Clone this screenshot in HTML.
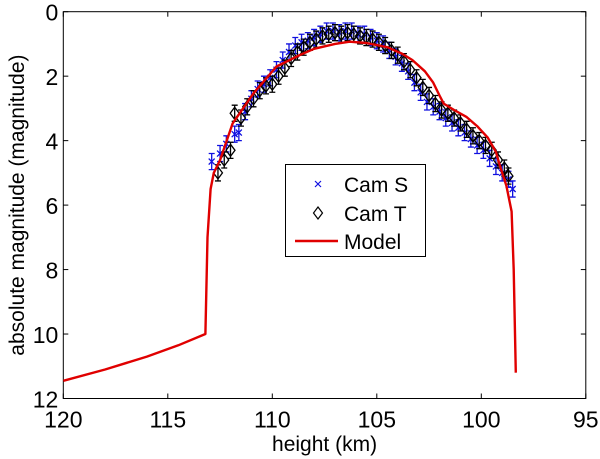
<!DOCTYPE html>
<html><head><meta charset="utf-8"><style>
body{margin:0;background:#fff}
svg{display:block;font-family:"Liberation Sans",sans-serif}
</style></head><body>
<svg id="chart" width="600" height="459" viewBox="0 0 600 459" xmlns="http://www.w3.org/2000/svg"></svg>
<script>
const xTicks=[120,115,110,105,100,95];
const yTicks=[0,2,4,6,8,10,12];
const modelH=[120,118,116,114.5,113.2,113.1,112.95,112.8,112.5,111.9,110.9,109.8,108.7,108,107,106.3,105.5,104.5,103.8,103.3,102.7,102.3,102.0,101.8,101.3,100.7,100.2,99.7,99.3,99.1,98.8,98.55,98.45,98.35];
const modelM=[11.45,11.1,10.7,10.35,10.0,7.0,5.5,5.0,4.6,3.47,2.53,1.7,1.35,1.15,1.0,0.93,0.97,1.1,1.3,1.5,1.85,2.2,2.6,2.85,3.05,3.27,3.55,3.9,4.35,4.8,5.4,6.2,8.0,11.2];
const camTH=[112.6,112.3,112.0,111.8,111.5,111.2,110.9,110.6,110.3,110.0,109.7,109.4,109.1,108.8,108.5,108.2,107.9,107.6,107.3,107.0,106.7,106.4,106.1,105.8,105.5,105.2,104.9,104.6,104.3,104.0,103.7,103.4,103.1,102.8,102.5,102.2,101.9,101.6,101.3,101.0,100.7,100.4,100.1,99.8,99.5,99.2,98.9,98.7];
const camTM=[5.0,4.6,4.3,3.15,3.3,2.95,2.7,2.45,2.3,2.25,2.0,1.75,1.45,1.25,1.1,0.95,0.85,0.75,0.7,0.65,0.7,0.65,0.7,0.75,0.8,0.85,0.95,1.05,1.2,1.35,1.55,1.8,2.05,2.35,2.6,2.85,3.05,3.15,3.3,3.45,3.65,3.85,4.0,4.15,4.3,4.6,4.85,5.1];
const camSH=[112.9,112.5,112.2,111.8,111.6,111.3,111.0,110.7,110.4,110.1,109.8,109.5,109.2,108.9,108.6,108.3,108.0,107.7,107.4,107.1,106.8,106.5,106.2,105.9,105.6,105.3,105.0,104.7,104.4,104.1,103.8,103.5,103.2,102.9,102.6,102.3,102.0,101.7,101.4,101.1,100.8,100.5,100.2,99.9,99.6,99.3,99.0,98.7,98.5];
const camSM=[4.65,4.4,4.1,3.8,3.75,3.1,2.7,2.4,2.25,2.05,1.8,1.5,1.25,1.05,0.95,0.9,0.8,0.7,0.6,0.6,0.65,0.6,0.6,0.7,0.7,0.8,0.9,1.0,1.2,1.4,1.6,1.85,2.2,2.5,2.8,2.95,3.1,3.3,3.45,3.6,3.75,3.95,4.15,4.3,4.55,4.8,5.0,5.2,5.5];
const errBar=0.25;

const L=63.3,R=585.8,T=11.7,B=398.5;
const X=h=>L+(120-h)/(120-95)*(R-L);
const Y=m=>T+m/12*(B-T);
const NS='http://www.w3.org/2000/svg';
const svg=document.getElementById('chart');
function mk(tag,attrs,parent){const e=document.createElementNS(NS,tag);for(const k in attrs)e.setAttribute(k,attrs[k]);(parent||svg).appendChild(e);return e;}

const axes=mk('g',{});


mk('rect',{x:L,y:T,width:R-L,height:B-T,fill:'#fff',stroke:'#000','stroke-width':1},axes);
xTicks.forEach(v=>{
  const x=X(v);
  mk('line',{x1:x,y1:B,x2:x,y2:B-5,stroke:'#000'},axes);
  mk('line',{x1:x,y1:T,x2:x,y2:T+5,stroke:'#000'},axes);
  const t=mk('text',{x:x,y:B+29,'font-size':23,'text-anchor':'middle'},axes);
  t.textContent=v;
  
  
});
yTicks.forEach(v=>{
  const y=Y(v);
  mk('line',{x1:L,y1:y,x2:L+5,y2:y,stroke:'#000'},axes);
  mk('line',{x1:R,y1:y,x2:R-5,y2:y,stroke:'#000'},axes);
  const t=mk('text',{x:L-5,y:y+9,'font-size':23,'text-anchor':'end'},axes);
  t.textContent=v;
  
  
});
const xt=mk('text',{x:(L+R)/2,y:451,'font-size':21,'text-anchor':'middle'});
xt.textContent='height (km)';


const yt=mk('text',{x:0,y:0,'font-size':21,'text-anchor':'middle',transform:'translate(24,'+((T+B)/2)+') rotate(-90)'});
yt.textContent='absolute magnitude (magnitude)';



// Cam S
const gs=mk('g',{stroke:'#1010e0','stroke-width':1.3,fill:'none'});


camSH.forEach((h,i)=>{
  const x=X(h),y=Y(camSM[i]),y1=Y(camSM[i]-errBar),y2=Y(camSM[i]+errBar);
  mk('path',{d:`M${x},${y1}V${y2}M${x-3},${y1}H${x+3}M${x-3},${y2}H${x+3}M${x-3},${y-3}L${x+3},${y+3}M${x-3},${y+3}L${x+3},${y-3}`},gs);
});
// Cam T
const gt=mk('g',{stroke:'#000','stroke-width':1.3,fill:'none'});


camTH.forEach((h,i)=>{
  const x=X(h),y=Y(camTM[i]),y1=Y(camTM[i]-errBar),y2=Y(camTM[i]+errBar);
  mk('path',{d:`M${x},${y1}V${y2}M${x-3},${y1}H${x+3}M${x-3},${y2}H${x+3}`},gt);
  mk('path',{d:`M${x},${y-6}L${x+4.5},${y}L${x},${y+6}L${x-4.5},${y}Z`},gt);
});
// Model
const md=modelH.map((h,i)=>(i?'L':'M')+X(h).toFixed(1)+','+Y(modelM[i]).toFixed(1)).join('');
const ml=mk('path',{d:md,stroke:'#e00000','stroke-width':2.4,fill:'none','stroke-linejoin':'round'});



// Legend
const lg=mk('g',{});


mk('rect',{x:285.5,y:164.5,width:140,height:92,fill:'#fff',stroke:'#000'},lg);
mk('path',{d:'M315,181L321,187M315,187L321,181',stroke:'#1010e0','stroke-width':1.2},lg);
mk('path',{d:'M318,207L322.5,213L318,219L313.5,213Z',stroke:'#000','stroke-width':1.2,fill:'none'},lg);
mk('line',{x1:295,y1:241,x2:338,y2:241,stroke:'#e00000','stroke-width':2.4},lg);
[['Cam S',192],['Cam T',221],['Model',249]].forEach(([s,y])=>{
  const t=mk('text',{x:344,y:y,'font-size':21},lg);
  t.textContent=s;
  
  
});
</script>
</body></html>
